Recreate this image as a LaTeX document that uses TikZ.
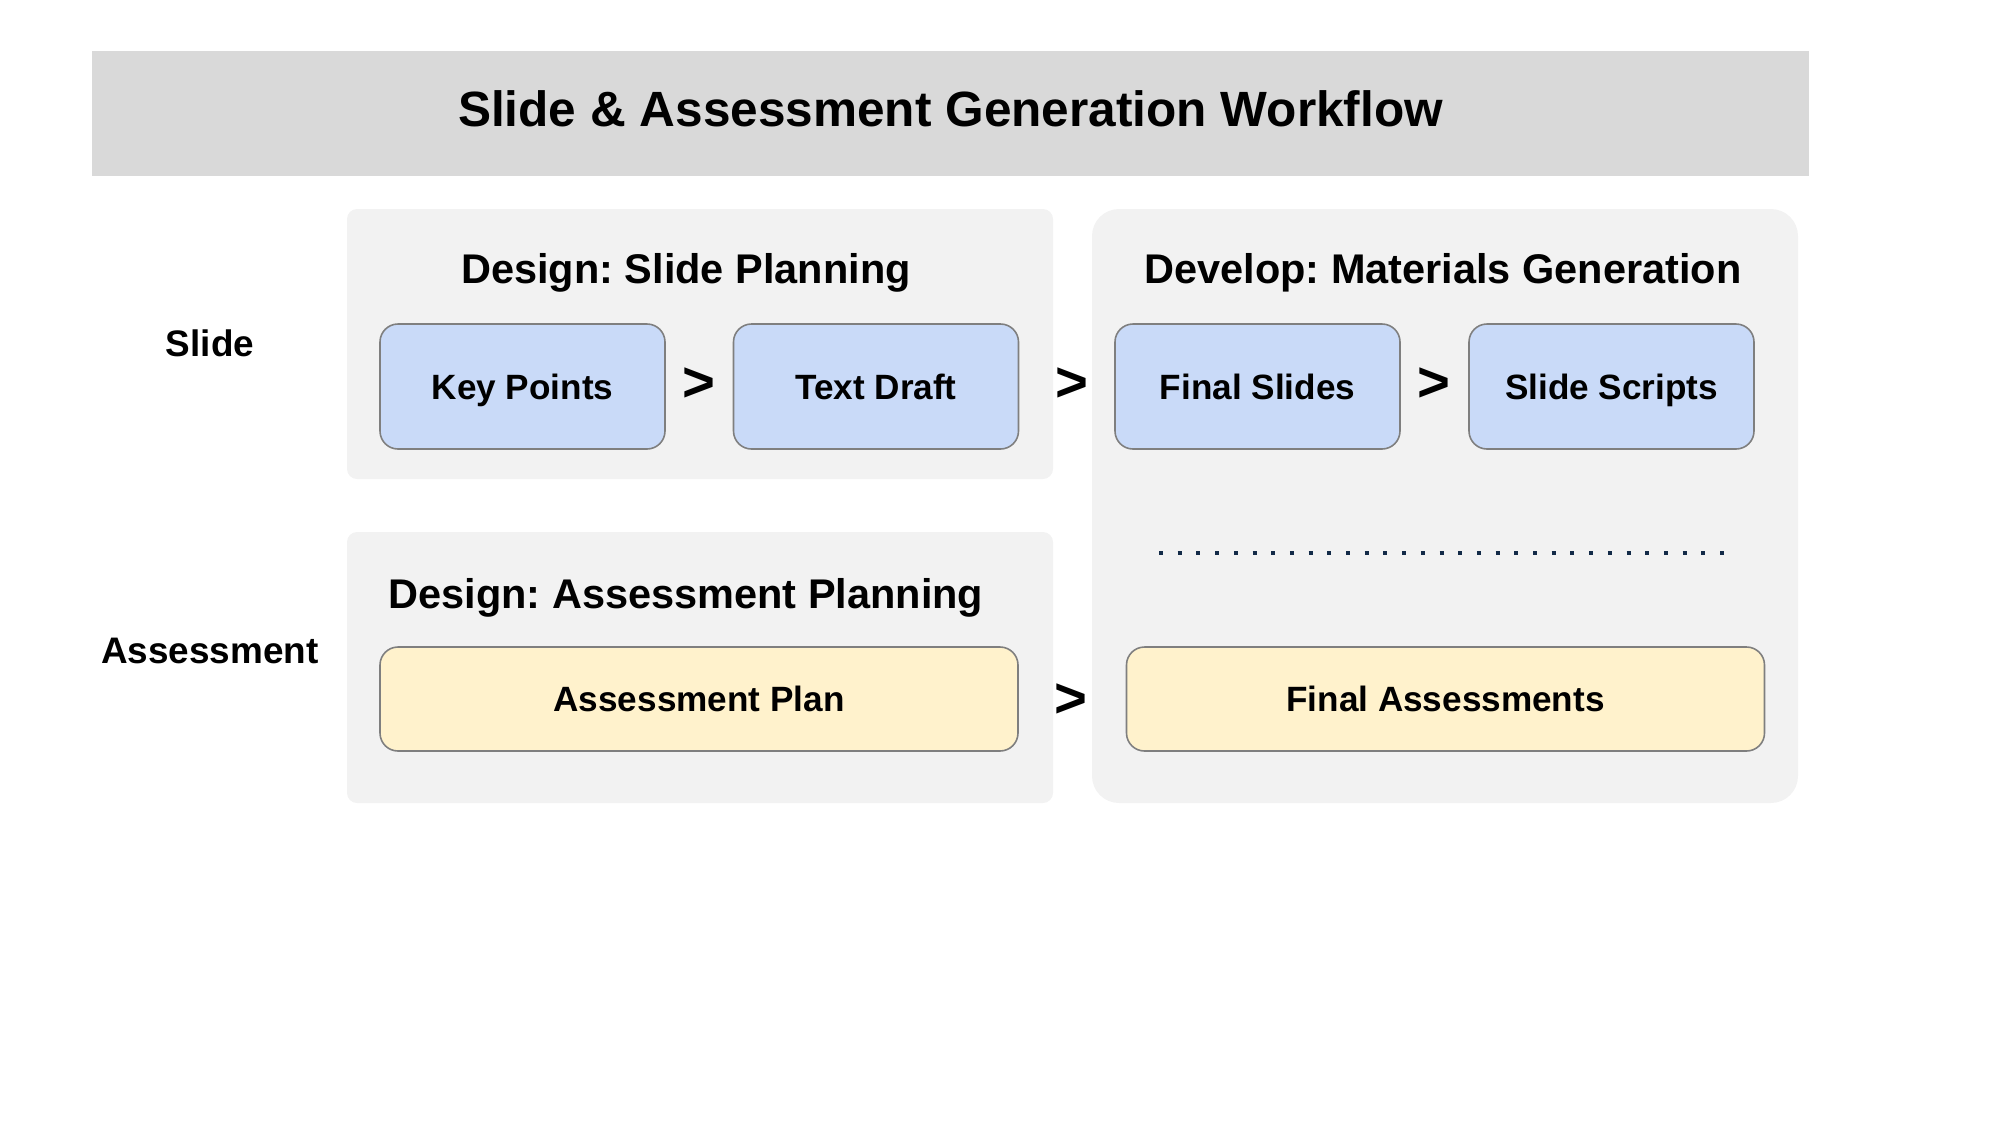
\documentclass[tikz,border=0pt]{standalone}
\usepackage{fontspec}
\setmainfont{Liberation Sans}
\frenchspacing
\usetikzlibrary{positioning}
\definecolor{barGray}{HTML}{D9D9D9}
\definecolor{panelGray}{HTML}{F2F2F2}
\definecolor{slideBlue}{HTML}{C9DAF8}
\definecolor{assessYellow}{HTML}{FFF2CC}
\definecolor{edgeGray}{HTML}{7F7F7F}
\definecolor{dotNavy}{HTML}{132B48}
\tikzstyle{bar} = [rectangle,fill=barGray,text centered,font=\fontsize{14.1}{17}\selectfont\bfseries,text height=0.716em,text depth=0pt]
\tikzstyle{panel} = [rectangle,fill=panelGray,rounded corners=0.1cm]
\tikzstyle{bigpanel} = [rectangle,fill=panelGray,rounded corners=0.27cm]
\tikzstyle{heading} = [font=\fontsize{11.8}{14}\selectfont\bfseries,anchor=base,inner sep=0pt]
\tikzstyle{lane} = [font=\fontsize{10.5}{12}\selectfont\bfseries,anchor=base,inner sep=0pt]
\tikzstyle{rec} = [rectangle,draw=edgeGray,line width=0.45pt,rounded corners=0.18cm,text centered,font=\fontsize{10}{12}\selectfont\bfseries,text height=0.716em,text depth=0pt]
\tikzstyle{slidebox} = [rec,fill=slideBlue,minimum width=2.85cm,minimum height=1.25cm]
\tikzstyle{assessbox} = [rec,fill=assessYellow,minimum width=6.38cm,minimum height=1.04cm]
\tikzstyle{sep} = [font=\fontsize{16}{19}\selectfont\bfseries,text height=0.716em,text depth=0pt,inner sep=0pt]
\tikzstyle{dotline} = [draw=dotNavy,line width=0.04cm,dash pattern=on 0.04cm off 0.147cm]

\begin{document}
\begin{tikzpicture}
    	\useasboundingbox (0,0) rectangle (20,-11.25);
    	
    	\node[bar,minimum width=17.17cm,minimum height=1.25cm] (title) at (9.505,-1.135) {Slide \& Assessment Generation Workflow};
    	
    	% panels
    	\node[panel,minimum width=7.06cm,minimum height=2.70cm] (slideplan) at (7.00,-3.44) {};
    	\node[panel,minimum width=7.06cm,minimum height=2.71cm,below of=slideplan,yshift=-2.235cm] (assessplan) {};
    	\node[bigpanel,minimum width=7.06cm,minimum height=5.94cm] (develop) at (14.45,-5.06) {};
    	
    	\node[heading] (slideplantitle) at (6.86,-2.83) {Design: Slide Planning};
    	\node[heading] (developtitle) at (14.43,-2.83) {Develop: Materials Generation};
    	\node[heading] (assessplantitle) at (6.86,-6.08) {Design: Assessment Planning};
    	
    	\node[lane] (slidelane) at (2.10,-3.56) {Slide};
    	\node[lane] (assesslane) at (2.10,-6.63) {Assessment};
    	
    	% slide row
    	\node[slidebox] (keypoints) at (5.225,-3.865) {Key Points};
    	\node[slidebox,right of=keypoints,xshift=2.535cm] (textdraft) {Text Draft};
    	\node[slidebox,right of=textdraft,xshift=2.815cm] (finalslides) {Final Slides};
    	\node[slidebox,right of=finalslides,xshift=2.54cm] (slidescripts) {Slide Scripts};
    	
    	\node[sep,right of=keypoints,xshift=0.765cm,yshift=-0.02cm] (sepa) {>};
    	\node[sep,right of=textdraft,xshift=0.96cm,yshift=-0.02cm] (sepb) {>};
    	\node[sep,right of=finalslides,xshift=0.76cm,yshift=-0.02cm] (sepc) {>};
    	
    	% assessment row
    	\node[assessbox] (assessmentplan) at (6.99,-6.99) {Assessment Plan};
    	\node[assessbox,right of=assessmentplan,xshift=6.465cm] (finalassess) {Final Assessments};
    	
    	\node[sep,right of=assessmentplan,xshift=2.72cm,yshift=-0.055cm] (sepd) {>};
    	
    	\coordinate (dotstart) at (11.59,-5.53);
    	\coordinate (dotend) at (17.26,-5.53);
    	\draw[dotline] (dotstart) -- (dotend);
    	
\end{tikzpicture}
\end{document}
